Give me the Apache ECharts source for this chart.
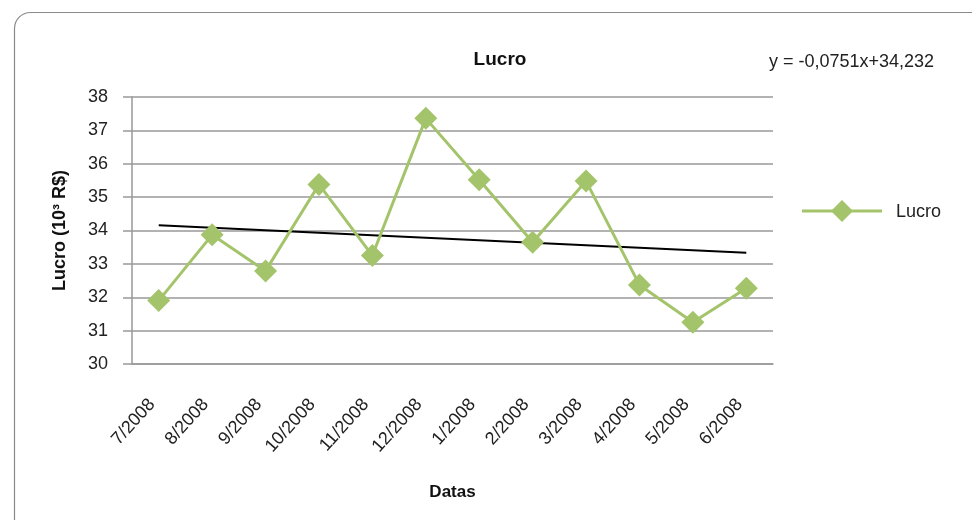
<!DOCTYPE html>
<html>
<head>
<meta charset="utf-8">
<script src="https://cdn.jsdelivr.net/npm/echarts@6/dist/echarts.min.js"></script>
<style>
html,body{margin:0;padding:0;background:#fff;}
#chart{width:972px;height:520px;}
</style>
</head>
<body>
<div id="chart"></div>
<script>
var categories = ['7/2008','8/2008','9/2008','10/2008','11/2008','12/2008','1/2008','2/2008','3/2008','4/2008','5/2008','6/2008'];
var lucro = [31.90, 33.87, 32.79, 35.38, 33.25, 37.36, 35.52, 33.65, 35.48, 32.37, 31.25, 32.27];
var trendSlope = -0.0751;
var trendIntercept = 34.232;
var yTicks = [30, 31, 32, 33, 34, 35, 36, 37, 38];

var trend = categories.map(function (c, i) {
  return +(trendSlope * (i + 1) + trendIntercept).toFixed(4);
});

var font = '"Liberation Sans", Arial, sans-serif';
var green = '#A4C46B';
var diamond = 'path://M0,0 L10,10 L0,20 L-10,10 Z';
var chart = echarts.init(document.getElementById('chart'));
chart.setOption({
  animation: false,
  backgroundColor: '#fff',
  textStyle: { fontFamily: font },
  graphic: [
    { type: 'rect', shape: { x: 14.5, y: 12.5, width: 990, height: 540, r: 16 },
      style: { fill: 'none', stroke: '#8a8a8a', lineWidth: 1.2 }, silent: true, z: -1 },
    { type: 'text', left: 769, top: 53,
      style: { text: 'y = -0,0751x+34,232', font: '18px ' + font, fill: '#222' } },
    { type: 'line', shape: { x1: 802, y1: 211, x2: 882, y2: 211 },
      style: { stroke: green, lineWidth: 3 } },
    { type: 'polygon', shape: { points: [[842, 200], [853, 211], [842, 222], [831, 211]] },
      style: { fill: green } },
    { type: 'text', left: 896, top: 203,
      style: { text: 'Lucro', font: '18px ' + font, fill: '#222' } }
  ],
  title: {
    text: 'Lucro', left: 495, top: 45, textAlign: 'center',
    textStyle: { fontSize: 19, fontWeight: 'bold', color: '#111', fontFamily: font }
  },
  grid: { left: 132, right: 199, top: 97, bottom: 156 },
  xAxis: {
    type: 'category', data: categories, boundaryGap: true,
    name: 'Datas', nameLocation: 'middle', nameGap: 120,
    nameTextStyle: { fontSize: 17, fontWeight: 'bold', color: '#111', fontFamily: font },
    axisLine: { lineStyle: { color: '#999', width: 1.5 } },
    axisTick: { show: false },
    axisLabel: { rotate: 48, margin: 30, padding: [0, 10, 0, 0], fontSize: 18, color: '#222', fontFamily: font, interval: 0 },
    splitLine: { show: false }
  },
  yAxis: {
    type: 'value', min: 30, max: 38, interval: 1,
    name: 'Lucro (10³ R$)', nameLocation: 'middle', nameGap: 63, nameRotate: 90,
    nameTextStyle: { fontSize: 18, fontWeight: 'bold', color: '#111', fontFamily: font },
    axisLine: { show: true, lineStyle: { color: '#999', width: 1.5 } },
    axisTick: { show: true, length: 9, lineStyle: { color: '#999', width: 1.5 } },
    axisLabel: { margin: 24, fontSize: 18, color: '#222', fontFamily: font,
      formatter: function (v) { return yTicks.indexOf(v) >= 0 ? String(v) : ''; } },
    splitLine: { show: true, lineStyle: { color: '#999', width: 1.5 } }
  },
  series: [
    {
      name: 'Lucro', type: 'line', data: lucro,
      symbol: diamond, symbolSize: 23,
      lineStyle: { color: green, width: 3 },
      itemStyle: { color: green },
      z: 3
    },
    {
      name: 'trend', type: 'line', data: trend, symbol: 'none',
      lineStyle: { color: '#000', width: 2 }, z: 2, silent: true
    }
  ]
});
</script>
</body>
</html>
